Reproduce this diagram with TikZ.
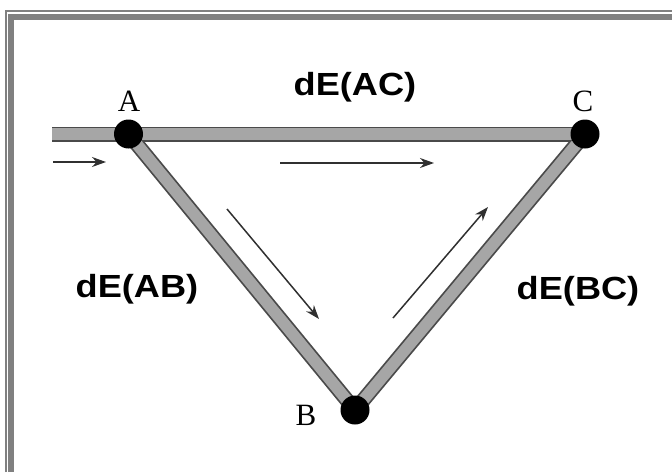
\documentclass[tikz,border=0pt]{standalone}
\usepackage{fontspec}
\setmainfont{Liberation Serif}
\newfontfamily\labfont{Liberation Sans}
\usetikzlibrary{arrows.meta}
\definecolor{framegray}{HTML}{808080}
\definecolor{roddark}{HTML}{4A4A4A}
\definecolor{rodlight}{HTML}{A6A6A6}
\definecolor{arrowgray}{HTML}{303030}
\tikzset{
  roddark/.style={draw=roddark, line width=15pt},
  rodlight/.style={draw=rodlight, line width=11.5pt},
  joint/.style={circle, fill=black, inner sep=0pt, minimum size=29pt},
  vertexlabel/.style={font=\fontsize{31}{31}\selectfont, inner sep=0pt},
  energylabel/.style={font=\labfont\bfseries\fontsize{32}{32}\selectfont, inner sep=0pt, xscale=1.13},
  flowarrow/.style={draw=arrowgray, line width=1.5pt, -{Stealth[length=14pt, width=10pt]}}
}
\begin{document}
\begin{tikzpicture}[x=1pt, y=-1pt]
\useasboundingbox (0,0) rectangle (672,472);
% frame
\draw[framegray, line width=2pt] (6,472) -- (6,11) -- (672,11);
\draw[framegray, line width=6pt] (10.5,472) -- (10.5,17) -- (672,17);
% joints
\coordinate (A) at (128.5,134);
\coordinate (B) at (355,410);
\coordinate (C) at (585,134);
\coordinate (L) at (52,134);
% rods
\draw[roddark] (L) -- (C);
\draw[roddark] (A) -- (B) -- (C);
\draw[rodlight] (L) -- (C);
\draw[rodlight] (A) -- (B) -- (C);
\node[joint] (nA) at (A) {};
\node[joint] (nB) at (B) {};
\node[joint] (nC) at (C) {};
% vertex labels
\node[vertexlabel] (lA) at (129,101) {A};
\node[vertexlabel] (lC) at (583,101) {C};
\node[vertexlabel] (lB) at (306,415) {B};
% energy labels
\node[energylabel] (eAC) at (355,87) {dE(AC)};
\node[energylabel] (eAB) at (137,289) {dE(AB)};
\node[energylabel] (eBC) at (578,291) {dE(BC)};
% arrows
\coordinate (a1s) at (53,162);
\coordinate (a1e) at (106,162);
\coordinate (a2s) at (280,163);
\coordinate (a2e) at (434,163);
\coordinate (a3s) at (227,209);
\coordinate (a3e) at (319,319);
\coordinate (a4s) at (393,318);
\coordinate (a4e) at (488,207);
\draw[flowarrow] (a1s) -- (a1e);
\draw[flowarrow] (a2s) -- (a2e);
\draw[flowarrow] (a3s) -- (a3e);
\draw[flowarrow] (a4s) -- (a4e);
\end{tikzpicture}
\end{document}
